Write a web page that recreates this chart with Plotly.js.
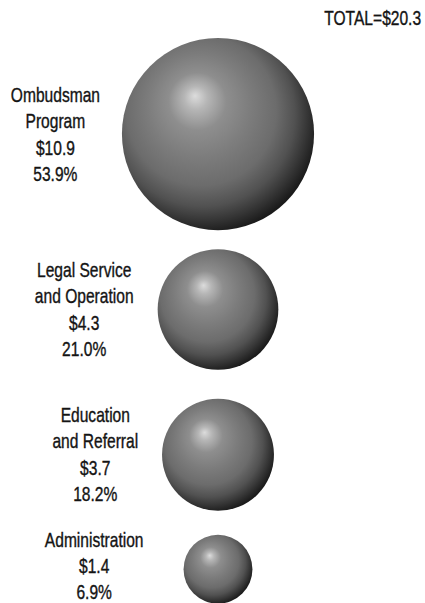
<!DOCTYPE html>
<html>
<head>
<meta charset="utf-8">
<script src="https://cdn.plot.ly/plotly-3.0.1.min.js"></script>
<style>
  html, body { margin: 0; padding: 0; background: #ffffff; }
  #chart { width: 425px; height: 603px; }
</style>
</head>
<body>
<div id="chart"></div>
<script>
// ---- data ----
var categories = ['Ombudsman<br>Program', 'Legal Service<br>and Operation', 'Education<br>and Referral', 'Administration'];
var amounts = [10.9, 4.3, 3.7, 1.4];
var percents = ['53.9%', '21.0%', '18.2%', '6.9%'];
var totalAmount = 20.3;

// ---- layout / style (pixel space) ----
var W = 425, H = 603;
var K = 29.1;                 // px radius per sqrt($)
var columnX = 218;            // sphere column centre
var topY = 38;                // top of first sphere
var gaps = [19, 29, 24];      // vertical gaps between spheres
var labelX = [55, 84, 95, 94];
var labelShift = [0, 0, 0, 3];
var FONT = 'Liberation Sans, Arial, sans-serif';
var FSIZE = 19;
var NARROW = 0.82;            // horizontal condensing of the label type
var TALL = 1.06;              // slight vertical stretch of the label type

// sphere centres stacked from their (area-proportional) radii
var radii = amounts.map(function (v) { return K * Math.sqrt(v); });
var ys = [];
var cursor = topY;
for (var i = 0; i < amounts.length; i++) {
  var c = cursor + radii[i];
  ys.push(c);
  cursor = c + radii[i] + (gaps[i] || 0);
}
var xs = amounts.map(function () { return columnX; });

var trace = {
  type: 'scatter',
  mode: 'markers',
  x: xs,
  y: ys,
  hoverinfo: 'skip',
  marker: {
    size: amounts,
    sizemode: 'area',
    sizeref: 1 / (2 * K * K),
    opacity: 1,
    color: '#1c1c1c',
    line: { width: 0 },
    gradient: { type: 'radial', color: '#dadada' }
  }
};

var annotations = categories.map(function (name, i) {
  return {
    xref: 'x', yref: 'y',
    x: labelX[i], y: ys[i],
    xanchor: 'center', yanchor: 'middle',
    align: 'center',
    showarrow: false,
    yshift: labelShift[i],
    text: name + '<br>$' + amounts[i].toFixed(1) + '<br>' + percents[i],
    font: { family: FONT, size: FSIZE, color: '#141414' }
  };
});
annotations.push({
  xref: 'x', yref: 'y',
  x: 423, y: 18,
  xanchor: 'right', yanchor: 'middle',
  showarrow: false,
  text: 'TOTAL=$' + totalAmount.toFixed(1),
  font: { family: FONT, size: FSIZE, color: '#141414' }
});

var layout = {
  width: W, height: H,
  margin: { l: 0, r: 0, t: 0, b: 0 },
  paper_bgcolor: '#ffffff',
  plot_bgcolor: '#ffffff',
  showlegend: false,
  xaxis: { range: [0, W], visible: false, fixedrange: true },
  yaxis: { range: [H, 0], visible: false, fixedrange: true },
  annotations: annotations
};

Plotly.newPlot('chart', [trace], layout, { staticPlot: true, displayModeBar: false }).then(function (gd) {
  // shape the shared radial gradient into an off-centre sphere highlight
  var grads = gd.querySelectorAll('radialGradient');
  var stops = [
    [0, '#dcdcdc'], [0.1, '#b6b6b6'], [0.25, '#8e8e8e'], [0.45, '#7c7c7c'],
    [0.65, '#6c6c6c'], [0.8, '#515151'], [0.9, '#363636'], [1, '#1a1a1a']
  ];
  grads.forEach(function (g) {
    g.setAttribute('cx', '0.43');
    g.setAttribute('cy', '0.42');
    g.setAttribute('r', '0.6');
    g.setAttribute('fx', '0.38');
    g.setAttribute('fy', '0.3');
    while (g.firstChild) g.removeChild(g.firstChild);
    stops.forEach(function (s) {
      var st = document.createElementNS('http://www.w3.org/2000/svg', 'stop');
      st.setAttribute('offset', (s[0] * 100) + '%');
      st.setAttribute('stop-color', s[1]);
      g.appendChild(st);
    });
  });
  // condense the label type horizontally (narrow display face look)
  var texts = gd.querySelectorAll('text.annotation-text');
  texts.forEach(function (t, idx) {
    var bb = t.getBBox();
    var isTotal = (idx === texts.length - 1);
    var ox = isTotal ? (bb.x + bb.width) : (bb.x + bb.width / 2);
    var oy = bb.y + bb.height / 2;
    t.style.strokeWidth = '0.35px';
    t.style.stroke = '#141414';
    var prev = t.getAttribute('transform') || '';
    t.setAttribute('transform', prev + ' translate(' + ox + ',' + oy + ') scale(' + NARROW + ',' + TALL + ') translate(' + (-ox) + ',' + (-oy) + ')');
  });
});
</script>
</body>
</html>
